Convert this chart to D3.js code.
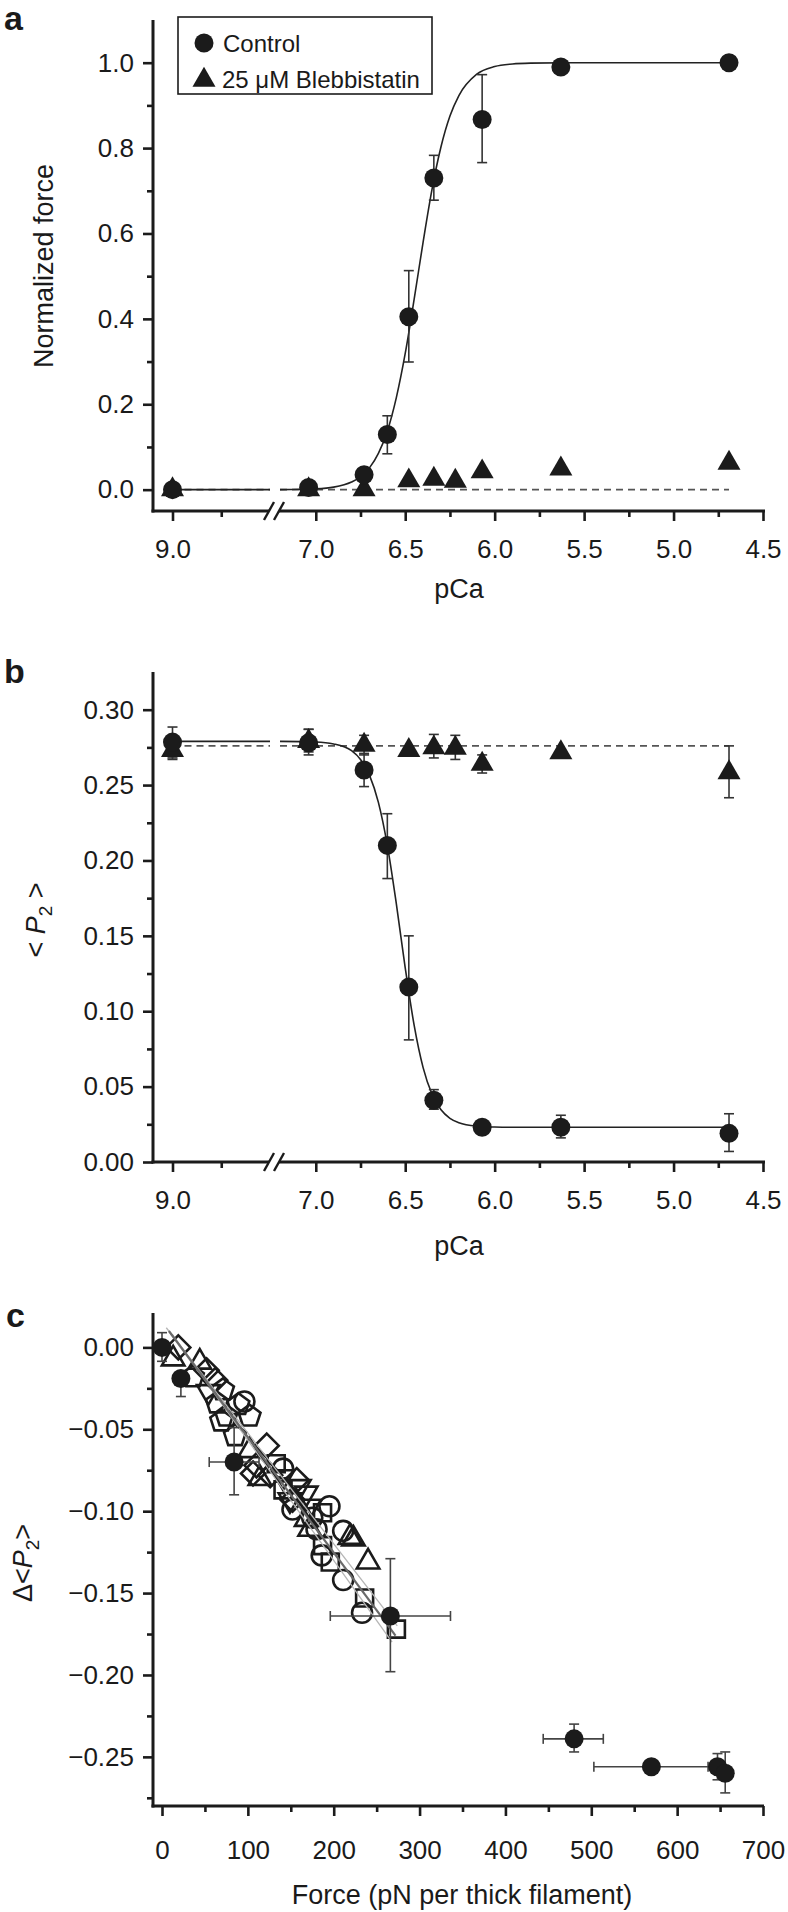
<!DOCTYPE html>
<html><head><meta charset="utf-8">
<script src="https://cdn.jsdelivr.net/npm/d3@7"></script>
<style>
body{margin:0;background:#fff}
svg{display:block}
text{font-family:"Liberation Sans",Arial,Helvetica,sans-serif;fill:#1a1a1a}
</style></head><body>
<svg id="chart" width="788" height="1912"></svg>
<script>
// ---------------- DATA ----------------
// pCa axis ticks (broken axis)
const pCaMajorLeft = [9.0];
const pCaMinorLeft = [8.75];
const pCaMajorRight = [7.0, 6.5, 6.0, 5.5, 5.0, 4.5];
const pCaMinorRight = [6.75, 6.25, 5.75, 5.25, 4.75];

// Panel a: normalized force
const forceTicks = [0, 0.2, 0.4, 0.6, 0.8, 1.0];
const forceMinor = [0.1, 0.3, 0.5, 0.7, 0.9];
const ctrlA_pCa = [9.0, 7.04, 6.73, 6.60, 6.48, 6.34, 6.07, 5.63, 4.69];
const ctrlA_val = [0.0, 0.005, 0.035, 0.129, 0.405, 0.730, 0.867, 0.990, 1.0];
const ctrlA_lo  = [0.0, 0.005, 0.035, 0.084, 0.299, 0.678, 0.766, 0.990, 1.0];
const ctrlA_hi  = [0.0, 0.005, 0.035, 0.173, 0.513, 0.783, 0.972, 0.990, 1.0];
const blebA_pCa = [9.0, 7.04, 6.73, 6.48, 6.34, 6.22, 6.07, 5.63, 4.69];
const blebA_val = [0.0, 0.0, 0.0, 0.021, 0.025, 0.020, 0.042, 0.049, 0.062];
// fitted curves
const fitA_pCa = [9.0, 8.5, 7.2, 7.0, 6.9, 6.8, 6.75, 6.7, 6.65, 6.6, 6.55, 6.5, 6.45, 6.4, 6.35, 6.3, 6.25, 6.2, 6.1, 6.0, 5.9, 5.8, 5.6, 4.69];
const fitA_val = [0, 0, 0, 0.002, 0.006, 0.018, 0.030, 0.051, 0.085, 0.137, 0.215, 0.319, 0.446, 0.580, 0.704, 0.803, 0.875, 0.923, 0.973, 0.991, 0.997, 0.999, 1.0, 1.0];
const blebFitA_val = 0.0;

// Panel b: <P2>
const p2Ticks = [0, 0.05, 0.10, 0.15, 0.20, 0.25, 0.30];
const p2Minor = [0.025, 0.075, 0.125, 0.175, 0.225, 0.275];
const ctrlB_pCa = [9.0, 7.04, 6.73, 6.60, 6.48, 6.34, 6.07, 5.63, 4.69];
const ctrlB_val = [0.2785, 0.278, 0.260, 0.210, 0.116, 0.041, 0.023, 0.023, 0.019];
const ctrlB_lo  = [0.267, 0.270, 0.249, 0.188, 0.081, 0.035, 0.021, 0.016, 0.007];
const ctrlB_hi  = [0.2885, 0.287, 0.271, 0.231, 0.150, 0.048, 0.026, 0.031, 0.032];
const blebB_pCa = [9.0, 7.04, 6.73, 6.48, 6.34, 6.22, 6.07, 5.63, 4.69];
const blebB_val = [0.273, 0.279, 0.2766, 0.2731, 0.2748, 0.2745, 0.2639, 0.2715, 0.2583];
const blebB_lo  = [0.268, 0.272, 0.270, 0.2731, 0.268, 0.267, 0.258, 0.2715, 0.2416];
const blebB_hi  = [0.281, 0.287, 0.283, 0.2731, 0.2836, 0.283, 0.270, 0.2715, 0.276];
const fitB_val = [0.279, 0.279, 0.279, 0.2786, 0.2773, 0.2728, 0.267, 0.2566, 0.2385, 0.210, 0.1715, 0.1288, 0.0906, 0.0626, 0.0449, 0.0346, 0.029, 0.0261, 0.0238, 0.0232, 0.023, 0.023, 0.023, 0.023];
const blebFitB_val = 0.276;

// Panel c: Δ<P2> vs force
const forceXTicks = [0, 100, 200, 300, 400, 500, 600, 700];
const forceXMinor = [50, 150, 250, 350, 450, 550, 650];
const dP2Ticks = [0, -0.05, -0.10, -0.15, -0.20, -0.25];
const dP2Minor = [-0.025, -0.075, -0.125, -0.175, -0.225, -0.275];
const filledF   = [0, 22, 84, 266, 480, 570, 647, 656];
const filledV   = [0, -0.019, -0.070, -0.164, -0.239, -0.256, -0.256, -0.260];
const filledFLo = [0, 22, 55, 196, 444, 503, 647, 656];
const filledFHi = [0, 22, 113, 336, 514, 636, 647, 656];
const filledVLo = [-0.0085, -0.030, -0.090, -0.198, -0.247, -0.256, -0.264, -0.272];
const filledVHi = [0.009, -0.019, -0.049, -0.129, -0.230, -0.256, -0.248, -0.247];
const circF = [96, 141, 152, 175, 180, 195, 211, 186, 211, 233];
const circV = [-0.033, -0.074, -0.099, -0.104, -0.111, -0.097, -0.112, -0.127, -0.142, -0.162];
const sqF = [133, 141, 187, 187, 196, 236, 273];
const sqV = [-0.071, -0.087, -0.101, -0.121, -0.131, -0.153, -0.172];
const triUpF = [13, 44, 102, 114, 168, 172, 219, 223, 240];
const triUpV = [-0.007, -0.009, -0.063, -0.080, -0.105, -0.111, -0.116, -0.117, -0.131];
const triDnF = [54, 141, 149, 168, 172, 160];
const triDnV = [-0.027, -0.079, -0.093, -0.089, -0.097, -0.085];
const diaF = [19, 52, 62, 106, 110, 122, 126, 152, 157];
const diaV = [0.0, -0.014, -0.020, -0.077, -0.072, -0.060, -0.078, -0.093, -0.081];
const pentF = [36, 64, 71, 69, 75, 85, 89, 102];
const pentV = [-0.018, -0.034, -0.026, -0.045, -0.042, -0.054, -0.035, -0.042];
const fitC_F = [8, 272];
const fitC_V = [0.010, -0.176];
const bandC1_F = [5, 274];
const bandC1_V = [0.012, -0.170];
const bandC2_F = [12, 268];
const bandC2_V = [0.008, -0.180];

// ---------------- DRAWING ----------------
const svg = d3.select('#chart');
svg.append('rect').attr('width', 788).attr('height', 1912).attr('fill', '#fff');
const INK = '#1b1b1b';
const AX = 153;
const TICKFS = 26, TITLEFS = 27;

const xLeft = d3.scaleLinear().domain([9.1, 8.5]).range([153, 270]);
const xRight = d3.scaleLinear().domain([7.2, 4.5]).range([280, 763]);
const xP = p => (p > 8 ? xLeft(p) : xRight(p));

const yA = d3.scaleLinear().domain([-0.05, 1.1]).range([511, 20]);
const yB = d3.scaleLinear().domain([0, 0.325]).range([1162, 672]);
const xC = d3.scaleLinear().domain([0, 700]).range([162, 763]);
const yC = d3.scaleLinear().domain([-0.28, 0.021]).range([1806, 1313]);

function styleAxis(g) {
  g.select('.domain').remove();
  g.selectAll('.tick line').attr('stroke', INK).attr('stroke-width', 2.6);
  g.selectAll('.tick text').attr('font-size', TICKFS).attr('fill', INK)
    .attr('font-family', '"Liberation Sans",Arial,sans-serif');
}

function yAxis(y, major, minor, fmt, top, bottom) {
  const g = svg.append('g').attr('transform', `translate(${AX},0)`);
  g.append('g').call(d3.axisLeft(y).tickValues(major).tickSize(10).tickPadding(9).tickFormat(fmt)).call(styleAxis);
  g.append('g').call(d3.axisLeft(y).tickValues(minor).tickSize(6).tickFormat('')).call(styleAxis);
  svg.append('line').attr('x1', AX).attr('x2', AX).attr('y1', top).attr('y2', bottom + 1.5)
    .attr('stroke', INK).attr('stroke-width', 3);
}

function pcaAxis(y0) {
  const g = svg.append('g').attr('transform', `translate(0,${y0})`);
  const fmt = d3.format('.1f');
  g.append('g').call(d3.axisBottom(xLeft).tickValues(pCaMajorLeft).tickSize(10).tickPadding(19).tickFormat(fmt)).call(styleAxis);
  g.append('g').call(d3.axisBottom(xLeft).tickValues(pCaMinorLeft).tickSize(6).tickFormat('')).call(styleAxis);
  g.append('g').call(d3.axisBottom(xRight).tickValues(pCaMajorRight).tickSize(10).tickPadding(19).tickFormat(fmt)).call(styleAxis);
  g.append('g').call(d3.axisBottom(xRight).tickValues(pCaMinorRight).tickSize(6).tickFormat('')).call(styleAxis);
  g.append('line').attr('x1', AX - 1.5).attr('x2', 269).attr('y1', 0).attr('y2', 0).attr('stroke', INK).attr('stroke-width', 3);
  g.append('line').attr('x1', 279).attr('x2', 765).attr('y1', 0).attr('y2', 0).attr('stroke', INK).attr('stroke-width', 3);
  [269, 279].forEach(cx => {
    g.append('line').attr('x1', cx - 5).attr('y1', 9).attr('x2', cx + 5).attr('y2', -9)
      .attr('stroke', INK).attr('stroke-width', 2.4);
  });
}

function errBar(x, y1, y2, cap, color) {
  if (Math.abs(y2 - y1) < 1) return;
  const g = svg.append('g').attr('stroke', color || '#333').attr('stroke-width', 1.6);
  g.append('line').attr('x1', x).attr('x2', x).attr('y1', y1).attr('y2', y2);
  g.append('line').attr('x1', x - cap).attr('x2', x + cap).attr('y1', y1).attr('y2', y1);
  g.append('line').attr('x1', x - cap).attr('x2', x + cap).attr('y1', y2).attr('y2', y2);
}
function errBarX(y, x1, x2, cap, color) {
  if (Math.abs(x2 - x1) < 1) return;
  const g = svg.append('g').attr('stroke', color || '#333').attr('stroke-width', 1.6);
  g.append('line').attr('y1', y).attr('y2', y).attr('x1', x1).attr('x2', x2);
  g.append('line').attr('y1', y - cap).attr('y2', y + cap).attr('x1', x1).attr('x2', x1);
  g.append('line').attr('y1', y - cap).attr('y2', y + cap).attr('x1', x2).attr('x2', x2);
}

const triSym = d3.symbol().type(d3.symbolTriangle).size(230);

function drawFit(pcas, vals, y, dash, color, width) {
  const pts = pcas.map((p, i) => [p, vals[i]]);
  const left = pts.filter(d => d[0] > 8), right = pts.filter(d => d[0] <= 8);
  [[left, xLeft], [right, xRight]].forEach(([seg, xs]) => {
    if (seg.length < 2) return;
    const line = d3.line().x(d => xs(d[0])).y(d => y(d[1])).curve(d3.curveMonotoneX);
    const p = svg.append('path').attr('d', line(seg)).attr('fill', 'none')
      .attr('stroke', color).attr('stroke-width', width);
    if (dash) p.attr('stroke-dasharray', dash);
  });
}

function panelLetter(t, x, y) {
  svg.append('text').attr('x', x).attr('y', y).attr('font-size', 34).attr('font-weight', 'bold').text(t);
}

function yTitle(x, y, build) {
  const t = svg.append('text').attr('transform', `translate(${x},${y}) rotate(-90)`)
    .attr('text-anchor', 'middle').attr('font-size', TITLEFS);
  build(t);
}

// ===== Panel a =====
panelLetter('a', 4, 30);
yAxis(yA, forceTicks, forceMinor, d3.format('.1f'), 20, 511);
pcaAxis(511);
svg.append('text').attr('x', 459).attr('y', 598).attr('text-anchor', 'middle').attr('font-size', TITLEFS).text('pCa');
yTitle(53, 266, t => t.text('Normalized force'));

drawFit([9.0, 8.5, 7.2, 4.69], [blebFitA_val, blebFitA_val, blebFitA_val, blebFitA_val], yA, '7,5', '#555', 1.6);
drawFit(fitA_pCa, fitA_val, yA, null, '#222', 1.6);
ctrlA_pCa.forEach((p, i) => errBar(xP(p), yA(ctrlA_lo[i]), yA(ctrlA_hi[i]), 5));
blebA_pCa.forEach((p, i) => {
  svg.append('path').attr('d', triSym()).attr('transform', `translate(${xP(p)},${yA(blebA_val[i])})`).attr('fill', INK);
});
ctrlA_pCa.forEach((p, i) => {
  svg.append('circle').attr('cx', xP(p)).attr('cy', yA(ctrlA_val[i])).attr('r', 9.5).attr('fill', INK);
});

// legend
const lg = svg.append('g');
lg.append('rect').attr('x', 178).attr('y', 17).attr('width', 254).attr('height', 77)
  .attr('fill', '#fff').attr('stroke', INK).attr('stroke-width', 1.6);
lg.append('circle').attr('cx', 204).attr('cy', 43).attr('r', 9.5).attr('fill', INK);
lg.append('text').attr('x', 223).attr('y', 52).attr('font-size', 24).text('Control');
lg.append('path').attr('d', triSym()).attr('transform', 'translate(204,80)').attr('fill', INK);
lg.append('text').attr('x', 222).attr('y', 88).attr('font-size', 24).text('25 \u03bcM Blebbistatin');

// ===== Panel b =====
panelLetter('b', 4, 683);
yAxis(yB, p2Ticks, p2Minor, d3.format('.2f'), 672, 1162);
pcaAxis(1162);
svg.append('text').attr('x', 459).attr('y', 1255).attr('text-anchor', 'middle').attr('font-size', TITLEFS).text('pCa');
yTitle(45, 920, t => {
  t.append('tspan').text('< ');
  t.append('tspan').attr('font-style', 'italic').text('P');
  t.append('tspan').attr('font-size', 19).attr('dy', 7).text('2');
  t.append('tspan').attr('dy', -7).text(' >');
});
drawFit([9.0, 8.5, 7.2, 4.69], [blebFitB_val, blebFitB_val, blebFitB_val, blebFitB_val], yB, '7,5', '#555', 1.6);
drawFit(fitA_pCa, fitB_val, yB, null, '#222', 1.6);
ctrlB_pCa.forEach((p, i) => errBar(xP(p), yB(ctrlB_lo[i]), yB(ctrlB_hi[i]), 5));
blebB_pCa.forEach((p, i) => errBar(xP(p), yB(blebB_lo[i]), yB(blebB_hi[i]), 5));
blebB_pCa.forEach((p, i) => {
  svg.append('path').attr('d', triSym()).attr('transform', `translate(${xP(p)},${yB(blebB_val[i])})`).attr('fill', INK);
});
ctrlB_pCa.forEach((p, i) => {
  svg.append('circle').attr('cx', xP(p)).attr('cy', yB(ctrlB_val[i])).attr('r', 9.5).attr('fill', INK);
});

// ===== Panel c =====
panelLetter('c', 6, 1327);
yAxis(yC, dP2Ticks, dP2Minor, d3.format('.2f'), 1313, 1806);
{
  const g = svg.append('g').attr('transform', 'translate(0,1806)');
  g.append('g').call(d3.axisBottom(xC).tickValues(forceXTicks).tickSize(10).tickPadding(25).tickFormat(d3.format('d'))).call(styleAxis);
  g.append('g').call(d3.axisBottom(xC).tickValues(forceXMinor).tickSize(6).tickFormat('')).call(styleAxis);
  g.append('line').attr('x1', AX - 1.5).attr('x2', 764).attr('y1', 0).attr('y2', 0).attr('stroke', INK).attr('stroke-width', 3);
}
svg.append('text').attr('x', 462).attr('y', 1904).attr('text-anchor', 'middle').attr('font-size', TITLEFS)
  .text('Force (pN per thick filament)');
yTitle(32, 1563, t => {
  t.append('tspan').text('\u0394<');
  t.append('tspan').attr('font-style', 'italic').text('P');
  t.append('tspan').attr('font-size', 19).attr('dy', 7).text('2');
  t.append('tspan').attr('dy', -7).text('>');
});

function shapePath(type, r) {
  const p = d3.path();
  if (type === 'circle') { p.arc(0, 0, r, 0, 2 * Math.PI); }
  else if (type === 'square') { const s = r * 0.85; p.rect(-s, -s, 2 * s, 2 * s); }
  else if (type === 'triUp' || type === 'triDn') {
    const sgn = type === 'triUp' ? 1 : -1; const R = r * 1.3;
    for (let k = 0; k < 3; k++) {
      const a = -Math.PI / 2 + k * 2 * Math.PI / 3;
      const x = R * Math.cos(a), y = sgn * R * Math.sin(a);
      k === 0 ? p.moveTo(x, y) : p.lineTo(x, y);
    }
    p.closePath();
  } else if (type === 'diamond') {
    const R = r * 1.2; p.moveTo(0, -R); p.lineTo(R, 0); p.lineTo(0, R); p.lineTo(-R, 0); p.closePath();
  } else if (type === 'pent') {
    const R = r * 1.15;
    for (let k = 0; k < 5; k++) {
      const a = -Math.PI / 2 + k * 2 * Math.PI / 5;
      k === 0 ? p.moveTo(R * Math.cos(a), R * Math.sin(a)) : p.lineTo(R * Math.cos(a), R * Math.sin(a));
    }
    p.closePath();
  }
  return p.toString();
}
const openSeries = [
  ['pent', pentF, pentV], ['diamond', diaF, diaV], ['triDn', triDnF, triDnV],
  ['triUp', triUpF, triUpV], ['circle', circF, circV], ['square', sqF, sqV]
];
openSeries.forEach(([type, F, V]) => {
  F.forEach((f, i) => {
    svg.append('path').attr('d', shapePath(type, 10))
      .attr('transform', `translate(${xC(f)},${yC(V[i])})`)
      .attr('fill', 'none').attr('stroke', INK).attr('stroke-width', 2.6);
  });
});
const lineC = d3.line().x(d => xC(d[0])).y(d => yC(d[1]));
[[bandC1_F, bandC1_V, '#b5b5b5', 1.3], [bandC2_F, bandC2_V, '#b5b5b5', 1.3], [fitC_F, fitC_V, '#6a6a6a', 2.2]].forEach(([F, V, c, w]) => {
  svg.append('path').attr('d', lineC(F.map((f, i) => [f, V[i]]))).attr('fill', 'none').attr('stroke', c).attr('stroke-width', w);
});
filledF.forEach((f, i) => {
  errBar(xC(f), yC(filledVLo[i]), yC(filledVHi[i]), 5, '#444');
  errBarX(yC(filledV[i]), xC(filledFLo[i]), xC(filledFHi[i]), 5, '#444');
});
filledF.forEach((f, i) => {
  svg.append('circle').attr('cx', xC(f)).attr('cy', yC(filledV[i])).attr('r', 9.5).attr('fill', INK);
});
</script></body></html>
